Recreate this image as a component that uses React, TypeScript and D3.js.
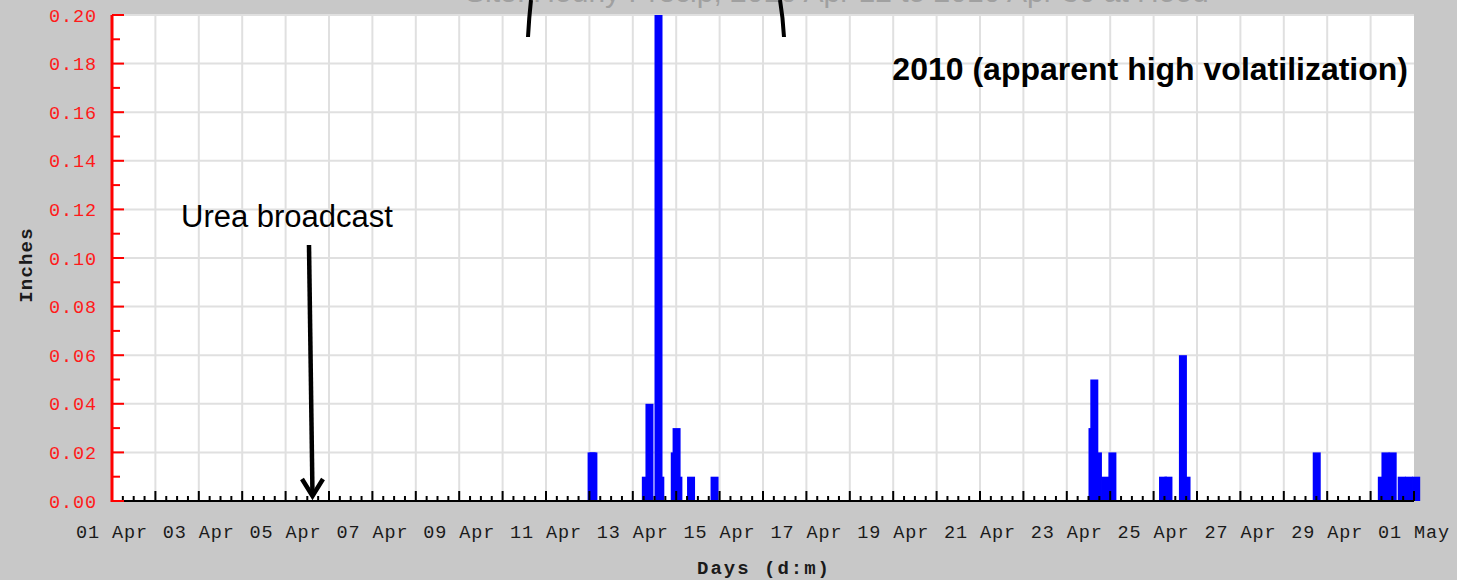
import React from 'react';
import * as d3 from 'd3';

// hourly rain readings (UTC), inches
const rainTimes = [
  '2010-04-11 23:00', '2010-04-12 00:00',
  '2010-04-13 05:00', '2010-04-13 07:00', '2010-04-13 12:00', '2010-04-13 13:00',
  '2010-04-13 21:00', '2010-04-13 22:00', '2010-04-13 23:00',
  '2010-04-14 06:00', '2010-04-14 19:00',
  '2010-04-23 12:00', '2010-04-23 13:00', '2010-04-23 15:00', '2010-04-23 19:00', '2010-04-23 23:00',
  '2010-04-25 03:00', '2010-04-25 06:00', '2010-04-25 14:00', '2010-04-25 16:00',
  '2010-04-28 16:00',
  '2010-04-30 04:00', '2010-04-30 06:00', '2010-04-30 10:00', '2010-04-30 15:00', '2010-04-30 19:00', '2010-04-30 23:00',
];
const rainInches = [
  0.02, 0.02,
  0.01, 0.04, 0.20, 0.01,
  0.02, 0.03, 0.01,
  0.01, 0.01,
  0.03, 0.05, 0.02, 0.01, 0.02,
  0.01, 0.01, 0.06, 0.01,
  0.02,
  0.01, 0.02, 0.02, 0.01, 0.01, 0.01,
];
const yTicks = [0, 0.02, 0.04, 0.06, 0.08, 0.10, 0.12, 0.14, 0.16, 0.18, 0.20];
const yMinor = [0.01, 0.03, 0.05, 0.07, 0.09, 0.11, 0.13, 0.15, 0.17, 0.19];

const W = 1457;
const H = 580;
const parse = d3.utcParse('%Y-%m-%d %H:%M');
const start = parse('2010-04-01 00:00')!;
const end = parse('2010-05-01 00:00')!;

const x = d3.scaleUtc().domain([start, end]).range([112, 1414]);
const y = d3.scaleLinear().domain([0, 0.2]).range([501, 15]);
const barW = 8;

const mono = '"Liberation Mono", "DejaVu Sans Mono", monospace';
const sans = '"Liberation Sans", Arial, sans-serif';

const App = () => {
  // taller bars drawn last so they sit on top of their neighbours
  const bars = rainTimes
    .map((t, i) => ({ t: parse(t)!, v: rainInches[i] }))
    .sort((a, b) => a.v - b.v);
  const days = d3.utcDay.range(start, d3.utcDay.offset(end, 1));
  const sixHours = d3.utcHour.every(6)!.range(start, d3.utcHour.offset(end, 1));
  const labelDays = d3.utcDay.every(2)!.range(start, d3.utcDay.offset(end, 1));
  const fmt = d3.utcFormat('%d %b');

  return (
    <svg width={W} height={H} style={{ position: 'fixed', left: 0, top: 0, display: 'block' }}>
      <rect width={W} height={H} fill="#c8c8c8" />
      <text x={465} y={2} fontFamily={sans} fontSize={30} fill="#a0a0a0">
        Site: Hourly Precip, 2010 Apr 12 to 2010 Apr 30 at Hood
      </text>
      <rect x={x(start)} y={y(0.2)} width={x(end) - x(start)} height={y(0) - y(0.2)} fill="#fff" />

      {/* grid */}
      {days.slice(1, -1).map((d, i) => (
        <line key={'gx' + i} x1={x(d)} x2={x(d)} y1={y(0.2)} y2={y(0)} stroke="#e0e0e0" strokeWidth={2} />
      ))}
      {yTicks.slice(1).map((v, i) => (
        <line key={'gy' + i} x1={x(start)} x2={x(end)} y1={y(v)} y2={y(v)} stroke="#e0e0e0" strokeWidth={2} />
      ))}

      {/* bars */}
      {bars.map((b, i) => (
        <rect key={'b' + i} x={x(b.t)} y={y(b.v)} width={barW} height={y(0) - y(b.v)} fill="#0000ff" />
      ))}

      {/* x axis */}
      <line x1={x(start)} x2={x(end)} y1={y(0)} y2={y(0)} stroke="#000" strokeWidth={2} />
      {sixHours.map((d, i) => (
        <line key={'t6' + i} x1={x(d)} x2={x(d)} y1={y(0)} y2={y(0) - (d.getUTCHours() === 0 ? 10 : 5)} stroke="#000" strokeWidth={2} />
      ))}
      {labelDays.map((d, i) => (
        <text key={'xl' + i} x={x(d)} y={538} textAnchor="middle" fontFamily={mono} fontSize={18.5} letterSpacing={0.9} fill="#1a1a1a">
          {fmt(d)}
        </text>
      ))}
      <text x={764} y={574} textAnchor="middle" fontFamily={mono} fontWeight="bold" fontSize={19} letterSpacing={2} fill="#1a1a1a">
        Days (d:m)
      </text>

      {/* y axis */}
      <line x1={x(start)} x2={x(start)} y1={y(0.2)} y2={y(0) + 1} stroke="#ff0000" strokeWidth={3} />
      {yTicks.map((v, i) => (
        <g key={'yt' + i}>
          <line x1={x(start)} x2={x(start) + 12} y1={y(v)} y2={y(v)} stroke="#ff0000" strokeWidth={2} />
          <text x={97} y={y(v) + 6.5} textAnchor="end" fontFamily={mono} fontSize={18.5} letterSpacing={0.9} fill="#ff1a1a">
            {v.toFixed(2)}
          </text>
        </g>
      ))}
      {yMinor.map((v, i) => (
        <line key={'ym' + i} x1={x(start)} x2={x(start) + 8} y1={y(v)} y2={y(v)} stroke="#ff0000" strokeWidth={2} />
      ))}
      <text transform="translate(32,265) rotate(-90)" textAnchor="middle" fontFamily={mono} fontWeight="bold" fontSize={19} letterSpacing={1.2} fill="#1a1a1a">
        Inches
      </text>

      {/* annotations */}
      <text x={1408} y={80} textAnchor="end" fontFamily={sans} fontWeight="bold" fontSize={32} fill="#000">
        2010 (apparent high volatilization)
      </text>
      <text x={181} y={227} fontFamily={sans} fontSize={31} fill="#000">
        Urea broadcast
      </text>
      <line x1={309} y1={245} x2={312.5} y2={495} stroke="#000" strokeWidth={4.5} />
      <polyline points="302,479 312.5,496 323,479" fill="none" stroke="#000" strokeWidth={4.5} strokeLinejoin="miter" />
      <path d="M531,0 Q529,18 528,37" fill="none" stroke="#000" strokeWidth={4} />
      <path d="M780,0 Q783,18 784,37" fill="none" stroke="#000" strokeWidth={4} />
    </svg>
  );
};

export default App;
